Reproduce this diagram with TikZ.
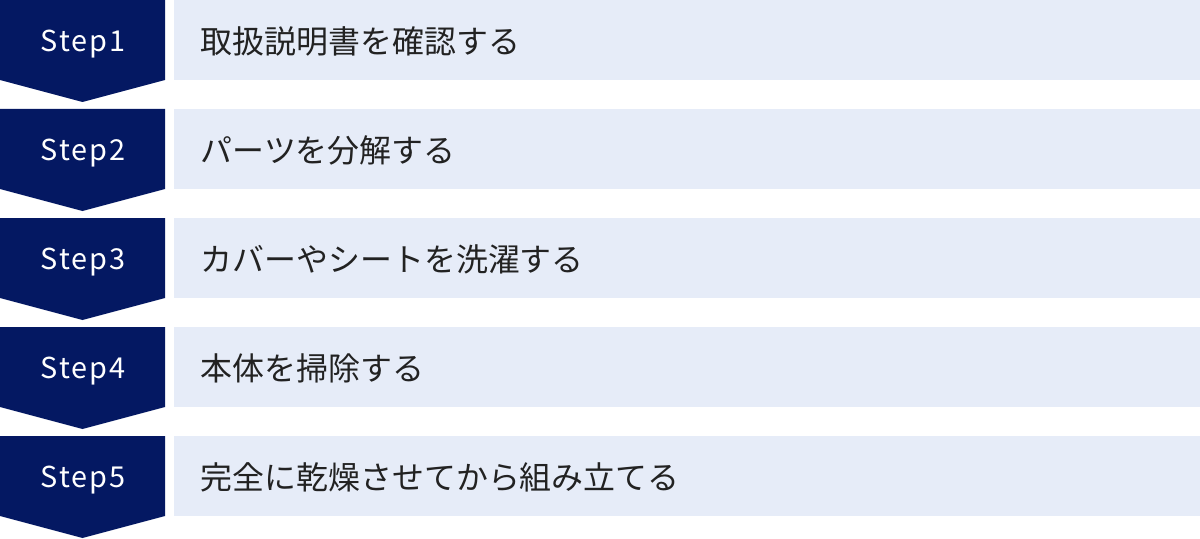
\documentclass[tikz,border=0pt]{standalone}
\usepackage{fontspec}
\setmainfont{Noto Sans}
\newfontfamily\jp{Noto Sans CJK JP}
\newfontfamily\jpstep[LetterSpace=7]{Noto Sans CJK JP}
\usepackage{tikz}
\usetikzlibrary{calc}
\definecolor{stepnavy}{HTML}{041862}
\definecolor{rowblue}{HTML}{E6ECF8}
\definecolor{rowtext}{HTML}{222222}
\tikzset{
	steplabel/.style={text=white, anchor=base, inner sep=0pt, font=\jpstep\fontsize{20.5}{20}\selectfont},
	rowlabel/.style={text=rowtext, anchor=base west, inner sep=0pt, font=\jp\fontsize{22.7}{22}\selectfont}
}

\begin{document}
\begin{tikzpicture}[x=0.025cm, y=-0.025cm]
		%%%%% START %%%%%
		\useasboundingbox (0, 0) rectangle (1200, 538);
		
		\fill[stepnavy] (0, 0) -- (165, 0) -- (165, 80) -- (82.5, 102) -- (0, 80) -- cycle;
		\fill[rowblue] (174, 0) rectangle (1200, 80);
		\node[steplabel] (s1) at (83, 51.5) {Step1};
		\node[rowlabel] (t1) at (200.5, 53.3) {取扱説明書を確認する};
		
		\fill[stepnavy] (0, 109) -- (165, 109) -- (165, 189) -- (82.5, 211) -- (0, 189) -- cycle;
		\fill[rowblue] (174, 109) rectangle (1200, 189);
		\node[steplabel] (s2) at (83, 160.5) {Step2};
		\node[rowlabel] (t2) at (200.5, 162.3) {パーツを分解する};
		
		\fill[stepnavy] (0, 218) -- (165, 218) -- (165, 298) -- (82.5, 320) -- (0, 298) -- cycle;
		\fill[rowblue] (174, 218) rectangle (1200, 298);
		\node[steplabel] (s3) at (83, 269.5) {Step3};
		\node[rowlabel] (t3) at (200.5, 271.3) {カバーやシートを洗濯する};
		
		\fill[stepnavy] (0, 327) -- (165, 327) -- (165, 407) -- (82.5, 429) -- (0, 407) -- cycle;
		\fill[rowblue] (174, 327) rectangle (1200, 407);
		\node[steplabel] (s4) at (83, 378.5) {Step4};
		\node[rowlabel] (t4) at (200.5, 380.3) {本体を掃除する};
		
		\fill[stepnavy] (0, 436) -- (165, 436) -- (165, 516) -- (82.5, 538) -- (0, 516) -- cycle;
		\fill[rowblue] (174, 436) rectangle (1200, 516);
		\node[steplabel] (s5) at (83, 487.5) {Step5};
		\node[rowlabel] (t5) at (200.5, 489.3) {完全に乾燥させてから組み立てる};
		%%%%% END %%%%%
	\end{tikzpicture}
\end{document}
